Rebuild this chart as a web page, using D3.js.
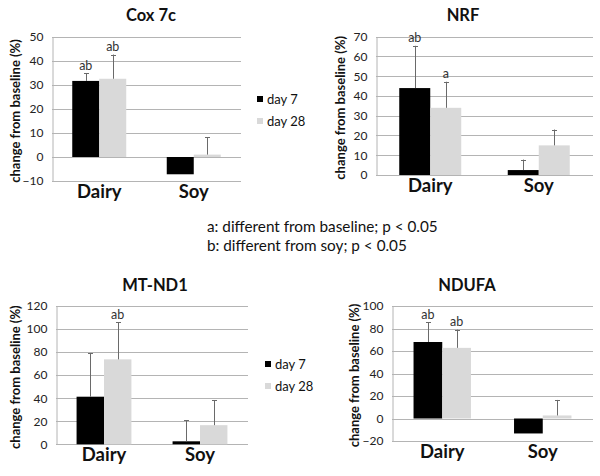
<!DOCTYPE html>
<html>
<head>
<meta charset="utf-8">
<script src="https://cdn.jsdelivr.net/npm/d3@7"></script>
<style>
  html, body { margin: 0; padding: 0; background: #fff; }
  svg { display: block; }
  text { font-family: Lato, "Open Sans", sans-serif; }
</style>
</head>
<body>
<svg id="chart" width="600" height="476"></svg>
<script>
// ---- data ----
const categories = ["Dairy", "Soy"];
const seriesNames = ["day 7", "day 28"];

const cox7cDay7 = [31.7, -7.2];
const cox7cDay28 = [32.6, 1.0];
const cox7cErr7 = [3.2, null];
const cox7cErr28 = [10.1, 7.3];
const cox7cLetters7 = ["ab", ""];
const cox7cLetters28 = ["ab", ""];
const cox7cTicks = [-10, 0, 10, 20, 30, 40, 50];

const nrfDay7 = [44.0, 2.5];
const nrfDay28 = [34.0, 15.0];
const nrfErr7 = [21.4, 5.3];
const nrfErr28 = [13.2, 8.0];
const nrfLetters7 = ["ab", ""];
const nrfLetters28 = ["a", ""];
const nrfTicks = [0, 10, 20, 30, 40, 50, 60, 70];

const mtnd1Day7 = [41.3, 2.6];
const mtnd1Day28 = [73.7, 16.6];
const mtnd1Err7 = [37.7, 18.1];
const mtnd1Err28 = [32.1, 21.6];
const mtnd1Letters7 = ["", ""];
const mtnd1Letters28 = ["ab", ""];
const mtnd1Ticks = [0, 20, 40, 60, 80, 100, 120];

const ndufaDay7 = [68.0, -13.3];
const ndufaDay28 = [62.8, 2.7];
const ndufaErr7 = [17.6, null];
const ndufaErr28 = [16.2, 13.8];
const ndufaLetters7 = ["ab", ""];
const ndufaLetters28 = ["ab", ""];
const ndufaTicks = [-20, 0, 20, 40, 60, 80, 100];

const footnotes = ["a: different from baseline; p < 0.05", "b: different from soy; p < 0.05"];
const yLabel = "change from baseline (%)";

// ---- layout (positions / styles) ----
const panels = [
  { title: "Cox 7c", d7: cox7cDay7, d28: cox7cDay28, e7: cox7cErr7, e28: cox7cErr28,
    l7: cox7cLetters7, l28: cox7cLetters28, ticks: cox7cTicks,
    x0: 52, x1: 241, yTop: 37, yBot: 181, titleX: 151, titleY: 21, labelX: 15, legend: {x: 257, y: 99} },
  { title: "NRF", d7: nrfDay7, d28: nrfDay28, e7: nrfErr7, e28: nrfErr28,
    l7: nrfLetters7, l28: nrfLetters28, ticks: nrfTicks,
    x0: 376, x1: 593, yTop: 36.7, yBot: 175, titleX: 463, titleY: 21, labelX: 340, legend: null },
  { title: "MT-ND1", d7: mtnd1Day7, d28: mtnd1Day28, e7: mtnd1Err7, e28: mtnd1Err28,
    l7: mtnd1Letters7, l28: mtnd1Letters28, ticks: mtnd1Ticks,
    x0: 56, x1: 248, yTop: 306, yBot: 444.3, titleX: 155, titleY: 291, labelX: 15, legend: {x: 265, y: 364} },
  { title: "NDUFA", d7: ndufaDay7, d28: ndufaDay28, e7: ndufaErr7, e28: ndufaErr28,
    l7: ndufaLetters7, l28: ndufaLetters28, ticks: ndufaTicks,
    x0: 392, x1: 593, yTop: 306, yBot: 441, titleX: 467, titleY: 291, labelX: 354, legend: null }
];

const colors = ["#000000", "#d9d9d9"];
const gridColor = "#b4b4b4";
const errColor = "#6a6a6a";

const svg = d3.select("#chart");

panels.forEach(p => {
  const g = svg.append("g");
  const ext = d3.extent(p.ticks);
  const y = d3.scaleLinear().domain(ext).range([p.yBot, p.yTop]);
  const x = d3.scaleBand().domain(categories).range([p.x0, p.x1])
    .paddingInner(1.5 / 3.5).paddingOuter(0.75 / 3.5);
  const xs = d3.scaleBand().domain(seriesNames).range([0, x.bandwidth()]);

  // gridlines
  g.append("g").selectAll("line").data(p.ticks).join("line")
    .attr("x1", p.x0).attr("x2", p.x1)
    .attr("y1", d => Math.round(y(d)) + 0.5).attr("y2", d => Math.round(y(d)) + 0.5)
    .attr("stroke", gridColor).attr("stroke-width", 1);

  // y axis
  const yAxis = d3.axisLeft(y).tickValues(p.ticks).tickSize(0).tickPadding(9);
  const ya = g.append("g").attr("transform", `translate(${p.x0 + 0.5},0)`).call(yAxis);
  ya.select(".domain").attr("stroke", gridColor);
  ya.selectAll("text").attr("font-size", 12).attr("fill", "#222")
    .attr("font-family", "Lato, 'Open Sans', sans-serif");

  // bars
  const series = [
    { name: seriesNames[0], vals: p.d7, errs: p.e7, letters: p.l7, color: colors[0] },
    { name: seriesNames[1], vals: p.d28, errs: p.e28, letters: p.l28, color: colors[1] }
  ];
  series.forEach(s => {
    const data = categories.map((c, i) => ({ c, v: s.vals[i], e: s.errs[i], t: s.letters[i] }));
    g.append("g").selectAll("rect").data(data).join("rect")
      .attr("x", d => x(d.c) + xs(s.name))
      .attr("width", xs.bandwidth())
      .attr("y", d => y(Math.max(0, d.v)))
      .attr("height", d => Math.abs(y(d.v) - y(0)))
      .attr("fill", s.color);

    const eb = data.filter(d => d.e != null);
    const cx = d => x(d.c) + xs(s.name) + xs.bandwidth() / 2;
    const eg = g.append("g");
    eg.selectAll("line.v").data(eb).join("line").attr("class", "v")
      .attr("x1", d => Math.round(cx(d)) + 0.5).attr("x2", d => Math.round(cx(d)) + 0.5)
      .attr("y1", d => y(d.v)).attr("y2", d => y(d.v + d.e))
      .attr("stroke", errColor).attr("stroke-width", 1);
    eg.selectAll("line.c").data(eb).join("line").attr("class", "c")
      .attr("x1", d => Math.round(cx(d)) - 2).attr("x2", d => Math.round(cx(d)) + 3)
      .attr("y1", d => Math.round(y(d.v + d.e)) + 0.5).attr("y2", d => Math.round(y(d.v + d.e)) + 0.5)
      .attr("stroke", errColor).attr("stroke-width", 1);

    g.append("g").selectAll("text").data(data.filter(d => d.t)).join("text")
      .attr("x", d => cx(d))
      .attr("y", d => y(d.v + (d.e || 0)) - 3.5)
      .attr("text-anchor", "middle")
      .attr("font-size", 12.5).attr("fill", "#333")
      .text(d => d.t);
  });

  // category labels
  g.append("g").selectAll("text").data(categories).join("text")
    .attr("x", d => x(d) + x.bandwidth() / 2)
    .attr("y", p.yBot + 17)
    .attr("text-anchor", "middle")
    .attr("font-size", 18.5).attr("font-weight", "bold").attr("fill", "#111")
    .text(d => d);

  // title
  g.append("text").attr("x", p.titleX).attr("y", p.titleY)
    .attr("text-anchor", "middle").attr("font-size", 16.5).attr("font-weight", "bold")
    .attr("fill", "#111").text(p.title);

  // y label
  g.append("text")
    .attr("transform", `translate(${p.labelX},${(p.yTop + p.yBot) / 2 + 2}) rotate(-90)`)
    .attr("text-anchor", "middle").attr("dominant-baseline", "central")
    .attr("font-size", 13).attr("font-weight", "bold").attr("fill", "#111")
    .text(yLabel);

  // legend
  if (p.legend) {
    const lg = g.append("g").attr("transform", `translate(${p.legend.x},${p.legend.y})`);
    seriesNames.forEach((n, i) => {
      lg.append("rect").attr("x", 0).attr("y", i * 22 - 3).attr("width", 6).attr("height", 6)
        .attr("fill", colors[i]);
      lg.append("text").attr("x", 10).attr("y", i * 22).attr("dominant-baseline", "central")
        .attr("font-size", 13).attr("fill", "#111").text(n);
    });
  }
});

// footnotes
svg.append("g").selectAll("text").data(footnotes).join("text")
  .attr("x", 207).attr("y", (d, i) => 226 + i * 19)
  .attr("dominant-baseline", "central")
  .attr("font-size", 15.3).attr("fill", "#111")
  .text(d => d);
</script>
</body>
</html>
